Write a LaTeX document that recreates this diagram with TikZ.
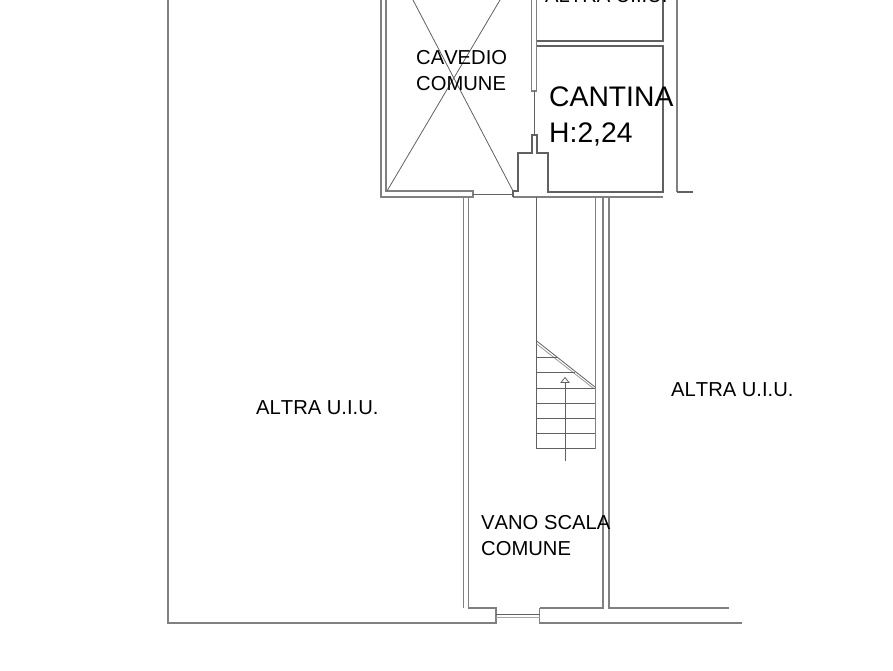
\documentclass[tikz,border=0pt]{standalone}
\usepackage{fontspec}
\setmainfont[Kerning=Off]{Liberation Sans}
\tikzset{
  wall/.style={draw=black!62,line width=1.1pt,line join=miter},
  outer/.style={draw=black!50,line width=1.4pt,line join=miter},
  fine/.style={draw=black!62,line width=0.8pt},
  label/.style={anchor=base west,inner sep=0pt,font=\fontsize{20.2}{22}\selectfont,text=black},
  biglabel/.style={anchor=base west,inner sep=0pt,font=\fontsize{28.3}{30}\selectfont,text=black}
}
\begin{document}
\begin{tikzpicture}[x=1pt,y=-1pt]
\useasboundingbox (0,0) rectangle (893,670);
\fill[white] (0,0) rectangle (893,670);
\begin{scope}
\clip (0,0) rectangle (893,670);
% outer shell
\draw[outer] (168,0) -- (168,623) -- (496,623) -- (496,608) -- (468.5,608) -- (468.5,197);
\draw[outer] (463.5,197) -- (463.5,608);
\draw[outer] (539.5,608) -- (539.5,623) -- (742,623);
\draw[outer] (539.5,608) -- (603,608) -- (603,197);
\draw[outer] (609,197) -- (609,608) -- (729,608);
\draw[fine] (496,614.5) -- (539.5,614.5);
\draw[draw=black!35,line width=0.8pt] (496,617.5) -- (539.5,617.5);
% cavedio
\draw[outer] (381,0) -- (381,197) -- (473,197) -- (473,191) -- (386,191) -- (386,0);
\draw[fine] (473,194) -- (513,194);
\draw[fine] (387,191) -- (500,0);
\draw[fine] (513,191) -- (413,0);
% cantina
\draw[outer] (513,197) -- (663,197);
\draw[wall] (513,197) -- (513,191) -- (518,191) -- (518,153) -- (532,153) -- (532,135) -- (537,135) -- (537,153) -- (548,153) -- (548,192) -- (663,192) -- (663,46) -- (536.5,46) -- (536.5,91);
\draw[outer] (531.5,0) -- (531.5,91) -- (536.5,91) -- (536.5,0);
\draw[fine] (534,91) -- (534,135);
\draw[wall] (536.5,41) -- (663,41) -- (663,0);
\draw[outer] (677,0) -- (677,192);
\draw[wall] (677,192) -- (693,192);
% stairs
\draw[wall] (536.7,197) -- (536.7,448.5) -- (595,448.5);
\draw[outer] (595.5,197) -- (595.5,448.5);
\draw[fine] (536.7,341) -- (595,387);
\draw[draw=black!40,line width=0.8pt] (536.7,344) -- (593,388);
\foreach \tx/\ty in {557/357,575/372.5,595/388,595/403,595/418,595/433.5}
  \draw[fine] (536.7,\ty) -- (\tx,\ty);
\draw[fine] (565,460.5) -- (565,382.5);
\draw[fine] (561,382.5) -- (565,377.5) -- (569,382.5) -- cycle;
% labels
\node[label] (toplabel) at (545,2) {ALTRA U.I.U.};
\node[label] (cav1) at (416,64) {CAVEDIO};
\node[label] (cav2) at (416,90.5) {COMUNE};
\node[biglabel] (can1) at (549,106) {CANTINA};
\node[biglabel] (can2) at (549,142) {H:2,24};
\node[label] (left) at (256,414) {ALTRA U.I.U.};
\node[label] (right) at (671,396) {ALTRA U.I.U.};
\node[label] (van1) at (481,529) {VANO SCALA};
\node[label] (van2) at (481,555) {COMUNE};
\end{scope}
\end{tikzpicture}
\end{document}
